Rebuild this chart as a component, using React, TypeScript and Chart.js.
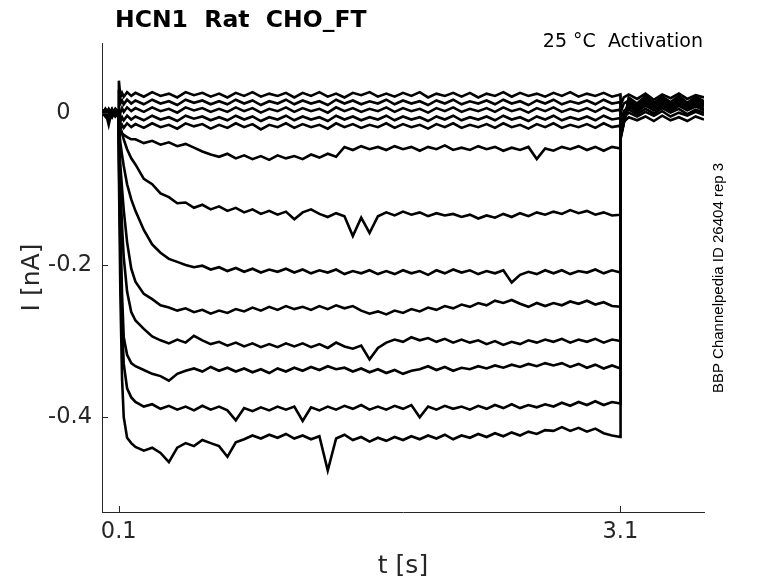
import { useEffect, useRef } from "react";
import { Chart, registerables } from "chart.js";

Chart.register(...registerables);

// sample times [s]: holding, step (0.1 - 3.1 s), back to holding
const times = [
  0, 0.02, 0.04, 0.06, 0.08, 0.1,
  0.101, 0.11, 0.12, 0.13, 0.15, 0.175,
  0.2, 0.25, 0.3, 0.35, 0.4, 0.45, 0.5, 0.55, 0.6, 0.65,
  0.7, 0.75, 0.8, 0.85, 0.9, 0.95, 1.0, 1.05, 1.1, 1.15,
  1.2, 1.25, 1.3, 1.35, 1.4, 1.45, 1.5, 1.55, 1.6, 1.65,
  1.7, 1.75, 1.8, 1.85, 1.9, 1.95, 2.0, 2.05, 2.1, 2.15,
  2.2, 2.25, 2.3, 2.35, 2.4, 2.45, 2.5, 2.55, 2.6, 2.65,
  2.7, 2.75, 2.8, 2.85, 2.9, 2.95, 3.0, 3.05, 3.1,
  3.101, 3.12, 3.15, 3.2, 3.25, 3.3, 3.35, 3.4, 3.45, 3.5, 3.55, 3.6,
];

// current traces [nA], one per voltage step
const sweep1 = [
  0.003, -0.004, 0.005, -0.002, 0.004, 0.0,
  0.042, 0.02, 0.026, 0.021, 0.027, 0.022,
  0.026, 0.021, 0.027, 0.022, 0.025, 0.02, 0.027, 0.023, 0.026, 0.021,
  0.025, 0.02, 0.026, 0.022, 0.027, 0.021, 0.025, 0.022, 0.026, 0.02,
  0.026, 0.022, 0.027, 0.021, 0.025, 0.02, 0.026, 0.023, 0.027, 0.021,
  0.025, 0.021, 0.026, 0.022, 0.027, 0.02, 0.025, 0.022, 0.026, 0.021,
  0.026, 0.02, 0.025, 0.022, 0.027, 0.021, 0.026, 0.022, 0.025, 0.021,
  0.026, 0.022, 0.027, 0.021, 0.025, 0.022, 0.026, 0.021, 0.024,
  0.01, 0.02, 0.024, 0.018, 0.025, 0.017, 0.024, 0.019, 0.025, 0.018, 0.023, 0.02,
];
const sweep2 = [
  -0.002, 0.004, -0.005, 0.003, -0.003, 0.0,
  0.03, 0.012, 0.016, 0.011, 0.017, 0.012,
  0.016, 0.011, 0.017, 0.012, 0.015, 0.01, 0.017, 0.013, 0.016, 0.011,
  0.015, 0.011, 0.017, 0.012, 0.016, 0.01, 0.015, 0.012, 0.017, 0.011,
  0.016, 0.012, 0.015, 0.01, 0.017, 0.012, 0.016, 0.011, 0.015, 0.012,
  0.017, 0.011, 0.016, 0.012, 0.015, 0.01, 0.016, 0.012, 0.017, 0.011,
  0.015, 0.012, 0.016, 0.011, 0.017, 0.012, 0.015, 0.01, 0.016, 0.012,
  0.017, 0.011, 0.015, 0.012, 0.016, 0.011, 0.017, 0.012, 0.014,
  0.0, 0.012, 0.016, 0.011, 0.018, 0.012, 0.017, 0.01, 0.016, 0.013, 0.017, 0.012,
];
const sweep3 = [
  0.004, -0.003, 0.002, -0.006, 0.003, 0.0,
  -0.01, 0.0, 0.006, 0.001, 0.007, 0.002,
  0.006, 0.001, 0.007, 0.002, 0.005, 0.0, 0.007, 0.003, 0.006, 0.001,
  0.005, 0.001, 0.007, 0.002, 0.006, 0.0, 0.005, 0.002, 0.007, 0.001,
  0.006, 0.002, 0.005, 0.0, 0.007, 0.002, 0.006, 0.001, 0.005, 0.002,
  0.007, 0.001, 0.006, 0.002, 0.005, 0.0, 0.006, 0.002, 0.007, 0.001,
  0.005, 0.002, 0.006, 0.001, 0.007, 0.002, 0.005, 0.0, 0.006, 0.002,
  0.007, 0.001, 0.005, 0.002, 0.006, 0.001, 0.007, 0.002, 0.004,
  -0.015, 0.002, 0.008, 0.003, 0.009, 0.004, 0.008, 0.002, 0.009, 0.003, 0.008, 0.004,
];
const sweep4 = [
  -0.004, 0.002, -0.016, 0.004, -0.002, 0.0,
  -0.03, -0.012, -0.006, -0.01, -0.004, -0.009,
  -0.005, -0.01, -0.004, -0.009, -0.006, -0.011, -0.004, -0.008, -0.005, -0.01,
  -0.006, -0.01, -0.004, -0.009, -0.005, -0.011, -0.006, -0.009, -0.004, -0.01,
  -0.005, -0.009, -0.006, -0.011, -0.004, -0.009, -0.005, -0.01, -0.006, -0.009,
  -0.004, -0.01, -0.005, -0.009, -0.006, -0.011, -0.005, -0.009, -0.004, -0.01,
  -0.006, -0.009, -0.005, -0.01, -0.004, -0.009, -0.006, -0.011, -0.005, -0.009,
  -0.004, -0.01, -0.006, -0.009, -0.005, -0.01, -0.004, -0.009, -0.007,
  -0.025, -0.006, 0.0, -0.005, 0.001, -0.004, 0.002, -0.005, 0.0, -0.004, 0.001, -0.003,
];
const sweep5 = [
  0.002, -0.005, 0.003, -0.003, 0.005, 0.0,
  -0.04, -0.022, -0.016, -0.02, -0.014, -0.019,
  -0.015, -0.02, -0.014, -0.019, -0.016, -0.021, -0.014, -0.018, -0.015, -0.021,
  -0.016, -0.02, -0.014, -0.019, -0.015, -0.022, -0.016, -0.019, -0.014, -0.02,
  -0.015, -0.019, -0.016, -0.021, -0.014, -0.019, -0.015, -0.02, -0.016, -0.019,
  -0.014, -0.02, -0.015, -0.019, -0.016, -0.021, -0.015, -0.019, -0.014, -0.02,
  -0.016, -0.019, -0.015, -0.02, -0.014, -0.019, -0.016, -0.021, -0.015, -0.019,
  -0.014, -0.02, -0.016, -0.019, -0.015, -0.02, -0.014, -0.019, -0.017,
  -0.032, -0.012, -0.006, -0.01, -0.005, -0.011, -0.004, -0.01, -0.006, -0.011, -0.005, -0.009,
];
const sweep6 = [
  -0.003, 0.004, -0.002, 0.005, -0.004, 0.0,
  -0.015, -0.022, -0.027, -0.029, -0.032, -0.035,
  -0.035, -0.04, -0.037, -0.042, -0.039, -0.044, -0.041, -0.046, -0.051, -0.055,
  -0.058, -0.054, -0.06, -0.056, -0.061, -0.057, -0.062, -0.056, -0.06, -0.057,
  -0.061, -0.055, -0.059, -0.054, -0.058, -0.045, -0.049, -0.044, -0.048, -0.045,
  -0.049, -0.044, -0.048, -0.045, -0.05, -0.045, -0.048, -0.043, -0.049, -0.046,
  -0.049, -0.044, -0.048, -0.045, -0.05, -0.046, -0.049, -0.045, -0.061, -0.047,
  -0.05, -0.045, -0.048, -0.044, -0.049, -0.045, -0.05, -0.045, -0.047,
  -0.015, -0.003, 0.004, -0.002, 0.005, -0.001, 0.006, 0.0, 0.005, -0.002, 0.004, 0.0,
];
const sweep7 = [
  0.002, -0.004, 0.004, -0.003, 0.003, 0.0,
  -0.01, -0.019, -0.028, -0.035, -0.048, -0.06,
  -0.068, -0.087, -0.094, -0.106, -0.111, -0.119, -0.118, -0.125, -0.121, -0.127,
  -0.123, -0.129, -0.125, -0.131, -0.127, -0.133, -0.129, -0.134, -0.13, -0.14,
  -0.131, -0.127, -0.133, -0.137, -0.132, -0.136, -0.162, -0.138, -0.158, -0.136,
  -0.131, -0.135, -0.13, -0.134, -0.131, -0.136, -0.132, -0.135, -0.133, -0.137,
  -0.134, -0.139, -0.135, -0.138, -0.133, -0.137, -0.132, -0.136, -0.131, -0.134,
  -0.13, -0.133, -0.128, -0.132, -0.129, -0.134, -0.131, -0.135, -0.134,
  -0.022, -0.008, 0.008, 0.001, 0.01, 0.003, 0.009, 0.002, 0.01, 0.004, 0.009, 0.003,
];
const sweep8 = [
  -0.004, 0.003, -0.005, 0.002, -0.003, 0.0,
  -0.02, -0.04, -0.056, -0.07, -0.094, -0.114,
  -0.129, -0.154, -0.173, -0.184, -0.192, -0.196, -0.2, -0.203, -0.201, -0.206,
  -0.203, -0.208, -0.204, -0.209, -0.205, -0.21, -0.206, -0.209, -0.205, -0.21,
  -0.206, -0.211, -0.207, -0.21, -0.206, -0.212, -0.208, -0.211, -0.207, -0.212,
  -0.208, -0.212, -0.207, -0.211, -0.208, -0.213, -0.207, -0.211, -0.206, -0.21,
  -0.207, -0.212, -0.208, -0.211, -0.207, -0.223, -0.213, -0.209, -0.212, -0.207,
  -0.211, -0.207, -0.212, -0.208, -0.21, -0.206, -0.211, -0.207, -0.21,
  -0.025, -0.01, 0.01, 0.003, 0.012, 0.005, 0.011, 0.004, 0.012, 0.006, 0.011, 0.005,
];
const sweep9 = [
  0.003, -0.002, 0.004, -0.004, 0.002, 0.0,
  -0.03, -0.07, -0.1, -0.128, -0.17, -0.205,
  -0.222, -0.238, -0.245, -0.253, -0.256, -0.26, -0.257, -0.262, -0.259, -0.264,
  -0.26, -0.263, -0.258, -0.261, -0.256, -0.26, -0.255, -0.259, -0.254, -0.258,
  -0.255, -0.259, -0.254, -0.258, -0.253, -0.257, -0.254, -0.26, -0.264, -0.261,
  -0.265, -0.26, -0.263, -0.258, -0.261, -0.256, -0.259, -0.254, -0.257, -0.252,
  -0.255, -0.25, -0.253, -0.247, -0.25, -0.246, -0.251, -0.255, -0.25, -0.254,
  -0.25, -0.253, -0.248, -0.251, -0.247, -0.252, -0.249, -0.254, -0.255,
  -0.028, -0.01, 0.012, 0.005, 0.014, 0.006, 0.013, 0.007, 0.014, 0.006, 0.013, 0.008,
];
const sweep10 = [
  -0.002, 0.005, -0.003, 0.003, -0.005, 0.0,
  -0.04, -0.1, -0.15, -0.19, -0.235, -0.262,
  -0.273, -0.284, -0.294, -0.299, -0.303, -0.298, -0.302, -0.293, -0.299, -0.304,
  -0.301, -0.306, -0.302, -0.307, -0.303, -0.308, -0.304, -0.308, -0.303, -0.307,
  -0.303, -0.308, -0.304, -0.309, -0.302, -0.307, -0.31, -0.306, -0.324, -0.309,
  -0.302, -0.298, -0.301, -0.295, -0.299, -0.296, -0.301, -0.297, -0.302, -0.298,
  -0.302, -0.299, -0.304, -0.3, -0.305, -0.301, -0.304, -0.299, -0.302, -0.298,
  -0.301, -0.297, -0.302, -0.298, -0.301, -0.297, -0.302, -0.298, -0.3,
  -0.03, -0.012, 0.014, 0.007, 0.016, 0.008, 0.015, 0.009, 0.016, 0.008, 0.015, 0.01,
];
const sweep11 = [
  0.004, -0.003, 0.002, -0.005, 0.004, 0.0,
  -0.05, -0.15, -0.24, -0.295, -0.318, -0.329,
  -0.333, -0.338, -0.343, -0.346, -0.352, -0.343, -0.339, -0.336, -0.34, -0.334,
  -0.339, -0.335, -0.34, -0.336, -0.341, -0.337, -0.342, -0.336, -0.34, -0.335,
  -0.339, -0.334, -0.338, -0.333, -0.337, -0.335, -0.34, -0.336, -0.341, -0.337,
  -0.342, -0.338, -0.343, -0.339, -0.337, -0.333, -0.338, -0.334, -0.339, -0.335,
  -0.337, -0.333, -0.336, -0.332, -0.335, -0.331, -0.334, -0.33, -0.333, -0.329,
  -0.332, -0.329, -0.334, -0.33, -0.335, -0.331, -0.336, -0.332, -0.336,
  -0.032, -0.013, 0.016, 0.008, 0.018, 0.01, 0.017, 0.011, 0.018, 0.01, 0.017, 0.012,
];
const sweep12 = [
  -0.003, 0.004, -0.004, 0.002, -0.002, 0.0,
  -0.06, -0.18, -0.28, -0.33, -0.362, -0.374,
  -0.38, -0.386, -0.383, -0.389, -0.385, -0.39, -0.386, -0.391, -0.385, -0.39,
  -0.386, -0.391, -0.404, -0.388, -0.392, -0.387, -0.391, -0.386, -0.39, -0.386,
  -0.405, -0.387, -0.391, -0.386, -0.39, -0.385, -0.389, -0.384, -0.39, -0.386,
  -0.39, -0.385, -0.389, -0.384, -0.4, -0.386, -0.39, -0.385, -0.389, -0.386,
  -0.39, -0.385, -0.389, -0.384, -0.388, -0.383, -0.388, -0.384, -0.387, -0.383,
  -0.386, -0.381, -0.385, -0.38, -0.384, -0.379, -0.384, -0.38, -0.382,
  -0.033, -0.014, 0.018, 0.01, 0.02, 0.012, 0.019, 0.013, 0.02, 0.012, 0.019, 0.014,
];
const sweep13 = [
  0.002, -0.004, 0.003, -0.003, 0.004, 0.0,
  -0.08, -0.24, -0.35, -0.4, -0.427, -0.434,
  -0.439, -0.444, -0.44, -0.447, -0.459, -0.44, -0.434, -0.438, -0.43, -0.434,
  -0.438, -0.452, -0.433, -0.429, -0.424, -0.428, -0.423, -0.427, -0.422, -0.428,
  -0.424, -0.429, -0.425, -0.47, -0.428, -0.423, -0.43, -0.426, -0.432, -0.427,
  -0.431, -0.426, -0.43, -0.425, -0.429, -0.424, -0.428, -0.423, -0.429, -0.424,
  -0.427, -0.422, -0.426, -0.421, -0.425, -0.42, -0.424, -0.419, -0.422, -0.417,
  -0.418, -0.413, -0.418, -0.414, -0.419, -0.415, -0.421, -0.424, -0.426,
  -0.035, -0.015, 0.02, 0.012, 0.022, 0.013, 0.021, 0.014, 0.022, 0.013, 0.021, 0.015,
];

const sweeps = [sweep1, sweep2, sweep3, sweep4, sweep5, sweep6, sweep7, sweep8, sweep9, sweep10, sweep11, sweep12, sweep13];

const xTicks = [0.1, 3.1];
const yTicks = [-0.4, -0.2, 0];

const titleText = "HCN1  Rat  CHO_FT";
const conditionText = "25 °C  Activation";
const sourceText = "BBP Channelpedia ID 26404 rep 3";

const ink = "#262626";
const face = '"DejaVu Sans", sans-serif';

const decorations = {
  id: "decorations",
  afterDraw(chart: any) {
    const { ctx, chartArea, scales } = chart;
    ctx.save();
    // inward tick marks
    ctx.strokeStyle = ink;
    ctx.lineWidth = 1;
    ctx.beginPath();
    for (const v of xTicks) {
      const px = Math.round(scales.x.getPixelForValue(v)) + 0.5;
      ctx.moveTo(px, chartArea.bottom);
      ctx.lineTo(px, chartArea.bottom - 6);
    }
    for (const v of yTicks) {
      const py = Math.round(scales.y.getPixelForValue(v)) + 0.5;
      ctx.moveTo(chartArea.left, py);
      ctx.lineTo(chartArea.left + 6, py);
    }
    ctx.stroke();

    ctx.fillStyle = "#000";
    ctx.textBaseline = "alphabetic";
    ctx.font = `bold 23.5px ${face}`;
    ctx.textAlign = "left";
    ctx.fillText(titleText, 115, 27);

    ctx.font = `19px ${face}`;
    ctx.textAlign = "right";
    ctx.fillText(conditionText, 703, 47);

    ctx.font = '15px "Liberation Sans", Arial, sans-serif';
    ctx.translate(719, 278);
    ctx.rotate(-Math.PI / 2);
    ctx.textAlign = "center";
    ctx.textBaseline = "middle";
    ctx.fillText(sourceText, 0, 0);
    ctx.restore();
  },
};

function TraceChart() {
  const ref = useRef<HTMLCanvasElement>(null);
  useEffect(() => {
    const chart = new Chart(ref.current!, {
      type: "line",
      data: {
        datasets: sweeps.map((s) => ({
          data: s.map((y, i) => ({ x: times[i], y })),
          borderColor: "#000",
          borderWidth: 2.6,
          borderJoinStyle: "miter" as const,
          pointRadius: 0,
          tension: 0,
        })),
      },
      options: {
        animation: false,
        responsive: false,
        devicePixelRatio: 1,
        layout: { padding: { top: 43, right: 74, left: 0, bottom: 0 } },
        plugins: { legend: { display: false }, tooltip: { enabled: false } },
        scales: {
          x: {
            type: "linear",
            min: 0,
            max: 3.6,
            afterFit: (s: any) => { s.height = 71; },
            afterBuildTicks: (s: any) => { s.ticks = xTicks.map((value) => ({ value })); },
            grid: { display: false, drawTicks: false },
            border: { display: true, color: ink, width: 1 },
            ticks: { color: ink, font: { family: face, size: 22.5 }, padding: 7, maxRotation: 0, callback: (v: any) => Number(v).toFixed(1) },
            title: { display: true, text: "t [s]", color: ink, font: { family: face, size: 25 }, padding: { top: 17, bottom: 2 } },
          },
          y: {
            type: "linear",
            min: -0.5245,
            max: 0.0915,
            afterFit: (s: any) => { s.width = 102; },
            afterBuildTicks: (s: any) => { s.ticks = yTicks.map((value) => ({ value })); },
            grid: { display: false, drawTicks: false },
            border: { display: true, color: ink, width: 1 },
            ticks: { color: ink, font: { family: face, size: 22.5 }, padding: 10, callback: (v: any) => (Number(v) === 0 ? "0   " : Number(v).toFixed(1)) },
            title: { display: true, text: "I [nA]", color: ink, font: { family: face, size: 25 }, padding: { top: 17, bottom: 2 } },
          },
        },
      },
      plugins: [decorations],
    });
    return () => chart.destroy();
  }, []);
  return <canvas ref={ref} width={778} height={583} style={{ display: "block" }} />;
}

export default function App() {
  return (
    <div style={{ position: "absolute", left: 0, top: 0, width: 778, height: 583, background: "#fff" }}>
      <TraceChart />
    </div>
  );
}
